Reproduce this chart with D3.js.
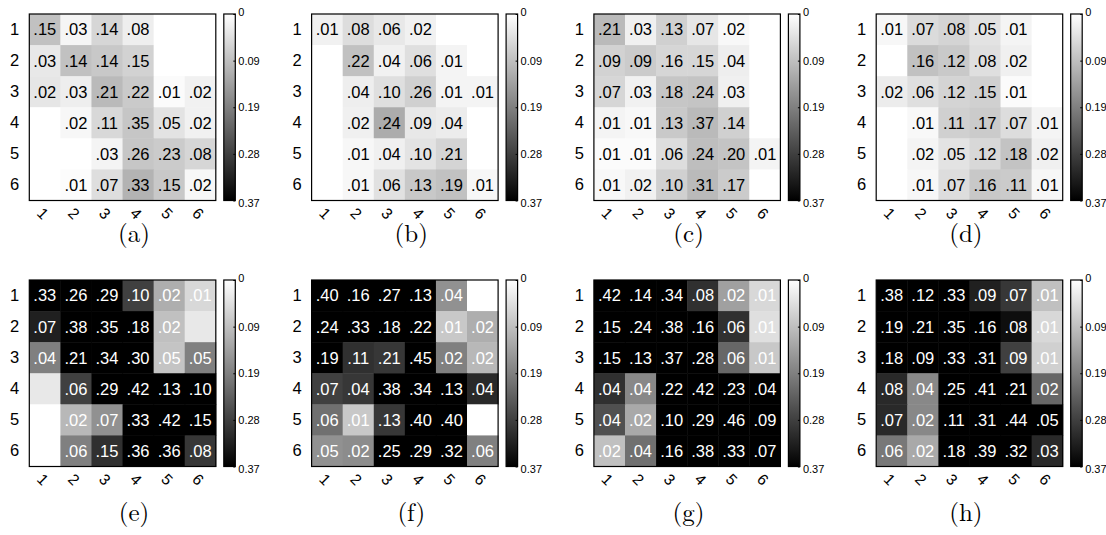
<!DOCTYPE html>
<html>
<head>
<meta charset="utf-8">
<script src="https://cdn.jsdelivr.net/npm/d3@7"></script>
<style>
  body { margin: 0; background: #fff; }
  svg { display: block; }
</style>
</head>
<body>
<div id="viz"></div>
<script>
// labels
const rowLabels = ["1", "2", "3", "4", "5", "6"];
const colLabels = ["1", "2", "3", "4", "5", "6"];
const panelNames = ["(a)", "(b)", "(c)", "(d)", "(e)", "(f)", "(g)", "(h)"];
const colorbarTicks = [0, 0.0925, 0.185, 0.2775, 0.37];
const colorbarTickLabels = ["0", "0.09", "0.19", "0.28", "0.37"];

// printed values in each cell (0 = no text)
const valuesA = [
  [.15, .03, .14, .08, 0, 0],
  [.03, .14, .14, .15, 0, 0],
  [.02, .03, .21, .22, .01, .02],
  [0, .02, .11, .35, .05, .02],
  [0, 0, .03, .26, .23, .08],
  [0, .01, .07, .33, .15, .02]];
const valuesB = [
  [.01, .08, .06, .02, 0, 0],
  [0, .22, .04, .06, .01, 0],
  [0, .04, .10, .26, .01, .01],
  [0, .02, .24, .09, .04, 0],
  [0, .01, .04, .10, .21, 0],
  [0, .01, .06, .13, .19, .01]];
const valuesC = [
  [.21, .03, .13, .07, .02, 0],
  [.09, .09, .16, .15, .04, 0],
  [.07, .03, .18, .24, .03, 0],
  [.01, .01, .13, .37, .14, 0],
  [.01, .01, .06, .24, .20, .01],
  [.01, .02, .10, .31, .17, 0]];
const valuesD = [
  [.01, .07, .08, .05, .01, 0],
  [0, .16, .12, .08, .02, 0],
  [.02, .06, .12, .15, .01, 0],
  [0, .01, .11, .17, .07, .01],
  [0, .02, .05, .12, .18, .02],
  [0, .01, .07, .16, .11, .01]];
const valuesE = [
  [.33, .26, .29, .10, .02, .01],
  [.07, .38, .35, .18, .02, 0],
  [.04, .21, .34, .30, .05, .05],
  [0, .06, .29, .42, .13, .10],
  [0, .02, .07, .33, .42, .15],
  [0, .06, .15, .36, .36, .08]];
const valuesF = [
  [.40, .16, .27, .13, .04, 0],
  [.24, .33, .18, .22, .01, .02],
  [.19, .11, .21, .45, .02, .02],
  [.07, .04, .38, .34, .13, .04],
  [.06, .01, .13, .40, .40, 0],
  [.05, .02, .25, .29, .32, .06]];
const valuesG = [
  [.42, .14, .34, .08, .02, .01],
  [.15, .24, .38, .16, .06, .01],
  [.15, .13, .37, .28, .06, .01],
  [.04, .04, .22, .42, .23, .04],
  [.04, .02, .10, .29, .46, .09],
  [.02, .04, .16, .38, .33, .07]];
const valuesH = [
  [.38, .12, .33, .09, .07, .01],
  [.19, .21, .35, .16, .08, .01],
  [.18, .09, .33, .31, .09, .01],
  [.08, .04, .25, .41, .21, .02],
  [.07, .02, .11, .31, .44, .05],
  [.06, .02, .18, .39, .32, .03]];

// shade of each cell, read on the colour bar (0 .. 0.37)
const shadeA = [
  [.09, .015, .06, .025, 0, 0],
  [.034, .09, .08, .066, 0, 0],
  [.036, .025, .10, .077, .006, .02],
  [0, .012, .056, .082, .04, .02],
  [0, 0, .016, .082, .075, .06],
  [0, .005, .048, .11, .08, .012]];
const shadeB = [
  [.02, .05, .034, .02, 0, 0],
  [0, .09, .02, .046, .016, 0],
  [0, .025, .046, .068, .016, .016],
  [0, .022, .12, .034, .028, 0],
  [0, .012, .022, .04, .062, 0],
  [0, .012, .043, .08, .09, .012]];
const shadeC = [
  [.10, .022, .068, .036, .01, 0],
  [.066, .075, .06, .06, .025, 0],
  [.06, .02, .082, .085, .022, 0],
  [.016, .01, .078, .10, .068, 0],
  [.006, .006, .05, .095, .085, .016],
  [.01, .02, .068, .10, .075, 0]];
const shadeD = [
  [.012, .052, .062, .04, .016, 0],
  [0, .09, .078, .046, .022, 0],
  [.028, .046, .062, .068, .006, 0],
  [0, .01, .068, .075, .05, .016],
  [0, .016, .04, .056, .087, .022],
  [0, .012, .05, .08, .075, .012]];
const shadeE = [
  [.37, .37, .37, .277, .117, .056],
  [.323, .37, .37, .37, .091, .033],
  [.184, .37, .37, .37, .085, .184],
  [.033, .277, .37, .37, .37, .37],
  [0, .103, .16, .37, .37, .37],
  [0, .184, .30, .37, .37, .29]];
const shadeF = [
  [.37, .37, .37, .37, .16, 0],
  [.37, .37, .37, .37, .08, .117],
  [.37, .30, .29, .37, .184, .103],
  [.277, .29, .37, .37, .37, .31],
  [.207, .08, .29, .37, .37, 0],
  [.16, .167, .37, .37, .37, .184]];
const shadeG = [
  [.37, .37, .37, .30, .138, .056],
  [.37, .37, .37, .37, .30, .046],
  [.37, .37, .37, .37, .22, .08],
  [.30, .173, .37, .37, .37, .37],
  [.254, .125, .37, .37, .37, .37],
  [.091, .207, .37, .37, .37, .37]];
const shadeH = [
  [.37, .37, .37, .323, .29, .091],
  [.37, .37, .37, .37, .35, .056],
  [.37, .37, .37, .37, .277, .068],
  [.31, .173, .37, .37, .37, .22],
  [.31, .173, .37, .37, .37, .37],
  [.196, .125, .37, .37, .37, .31]];

const panelValues = [valuesA, valuesB, valuesC, valuesD, valuesE, valuesF, valuesG, valuesH];
const panelShades = [shadeA, shadeB, shadeC, shadeD, shadeE, shadeF, shadeG, shadeH];

const W = 1106, H = 535;
const size = 186.5;           // side of a heatmap
const panelStep = 282.3;      // horizontal distance between panels
const firstLeft = 29.3;
const rowTops = [14, 280];
const captionY = [233, 512];
const captionX0 = 134, captionStep = 277.3;
const cbGap = 8, cbWidth = 11.5;

const sans = "'Liberation Sans', Arial, Helvetica, sans-serif";
const serif = "'Latin Modern Roman', 'CMU Serif', 'DejaVu Serif', 'Liberation Serif', serif";

const svg = d3.select("#viz").append("svg")
    .attr("width", W)
    .attr("height", H);

const grey = d3.scaleLinear().domain([0, 0.37]).range(["#ffffff", "#000000"]).clamp(true);
const fmt = v => d3.format(".2f")(v).replace(/^0/, "");

// gradient for the colour bars
const defs = svg.append("defs");
const grad = defs.append("linearGradient")
    .attr("id", "cbgrad")
    .attr("x1", 0).attr("y1", 0).attr("x2", 0).attr("y2", 1);
grad.selectAll("stop")
    .data(d3.range(0, 1.0001, 0.1))
    .join("stop")
      .attr("offset", d => d)
      .attr("stop-color", d => grey(d * 0.37));

panelValues.forEach((values, p) => {
    const shades = panelShades[p];
    const col = p % 4, row = Math.floor(p / 4);
    const left = firstLeft + col * panelStep;
    const top = rowTops[row];

    const x = d3.scaleBand().domain(colLabels).range([0, size]);
    const y = d3.scaleBand().domain(rowLabels).range([0, size]);

    const g = svg.append("g")
        .attr("transform", `translate(${left}, ${top})`);

    const cells = [];
    values.forEach((r, i) => r.forEach((v, j) => {
        cells.push({row: rowLabels[i], col: colLabels[j], v: v, s: shades[i][j]});
    }));

    g.append("g")
        .selectAll("rect")
        .data(cells)
        .join("rect")
          .attr("x", d => x(d.col))
          .attr("y", d => y(d.row))
          .attr("width", x.bandwidth() + 0.5)
          .attr("height", y.bandwidth() + 0.5)
          .attr("fill", d => grey(d.s));

    // text in the cells
    g.append("g")
        .attr("font-family", sans)
        .attr("font-size", 16.5)
        .attr("text-anchor", "middle")
        .selectAll("text")
        .data(cells.filter(d => d.v > 0))
        .join("text")
          .attr("x", d => x(d.col) + x.bandwidth() / 2)
          .attr("y", d => y(d.row) + y.bandwidth() / 2)
          .attr("dy", "0.36em")
          .attr("fill", row === 0 ? "#000" : "#fff")
          .text(d => fmt(d.v));

    // frame
    g.append("rect")
        .attr("width", size)
        .attr("height", size)
        .attr("fill", "none")
        .attr("stroke", "#000")
        .attr("stroke-width", 1.2);

    // row labels
    const yAxis = g.append("g")
        .call(d3.axisLeft(y).tickSize(0).tickPadding(10));
    yAxis.select(".domain").remove();
    yAxis.selectAll("text")
        .attr("font-family", sans)
        .attr("font-size", 16.5)
        .attr("fill", "#000");

    // column labels, rotated
    const xAxis = g.append("g")
        .attr("transform", `translate(0, ${size})`)
        .call(d3.axisBottom(x).tickSize(0).tickPadding(0));
    xAxis.select(".domain").remove();
    xAxis.selectAll("text")
        .attr("font-family", sans)
        .attr("font-size", 15.5)
        .attr("fill", "#000")
        .attr("y", 0)
        .attr("dy", 0)
        .attr("text-anchor", "middle")
        .attr("transform", "translate(-2, 13) rotate(45)")
        .attr("dominant-baseline", "central");

    // colour bar
    const cb = g.append("g")
        .attr("transform", `translate(${size + cbGap}, 0)`);
    cb.append("rect")
        .attr("width", cbWidth)
        .attr("height", size)
        .attr("fill", "url(#cbgrad)")
        .attr("stroke", "#000")
        .attr("stroke-width", 1.2);
    const cbScale = d3.scaleLinear().domain([0, 0.37]).range([0, size]);
    const cbAxis = cb.append("g")
        .attr("transform", `translate(${cbWidth}, 0)`)
        .call(d3.axisRight(cbScale)
            .tickValues(colorbarTicks)
            .tickSize(2)
            .tickPadding(1)
            .tickFormat((d, i) => colorbarTickLabels[i]));
    cbAxis.select(".domain").remove();
    cbAxis.selectAll("line").attr("stroke", "#000").attr("transform", "translate(-2, 0)");
    cbAxis.selectAll("text")
        .attr("font-family", sans)
        .attr("font-size", 11)
        .attr("fill", "#000");
    cbAxis.selectAll(".tick").filter(d => d === 0).select("text").attr("dy", "0.1em");
    cbAxis.selectAll(".tick").filter(d => d === 0.37).select("text").attr("dy", "0.55em");

    // caption
    svg.append("text")
        .attr("x", captionX0 + col * captionStep)
        .attr("y", captionY[row])
        .attr("dy", "0.35em")
        .attr("text-anchor", "middle")
        .attr("font-family", serif)
        .attr("font-size", 25)
        .text(panelNames[p]);
});
</script>
</body>
</html>
